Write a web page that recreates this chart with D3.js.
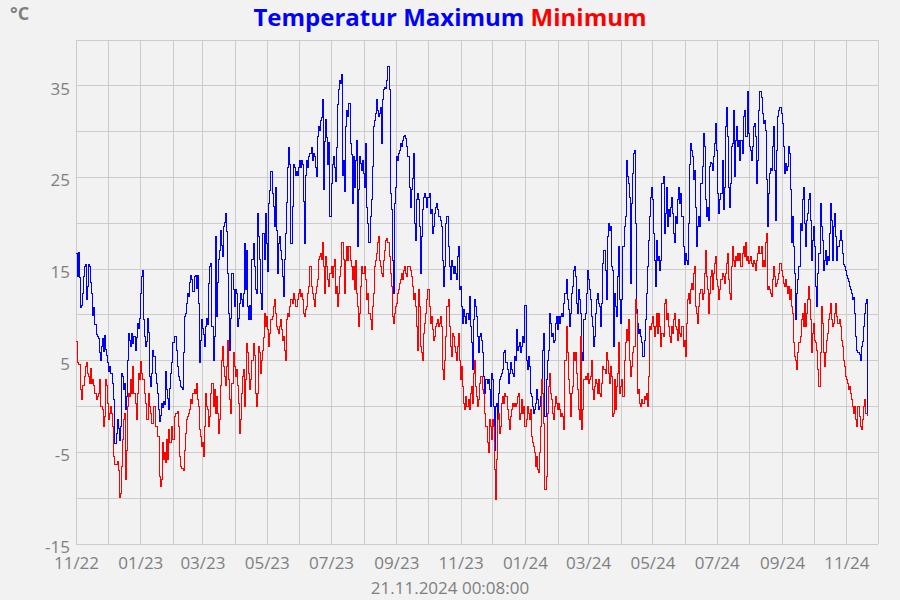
<!DOCTYPE html>
<html><head><meta charset="utf-8">
<script src="https://cdn.jsdelivr.net/npm/d3@7"></script>
<style>
html,body{margin:0;padding:0;background:#f2f2f2;}
svg{display:block;font-family:"Open Sans",sans-serif;}
</style></head><body>
<svg id="chart" width="900" height="600"></svg>
<script>
const startDate = "2022-11-01";
const tmax = [
16.7,14.1,16.8,14,10.7,11,12.3,14.1,15.2,15.5,
11.6,13,15.5,15.2,13.5,12.3,9.9,10.8,8.9,7.8,
7.6,7.4,5.8,5.0,6.5,7.4,6.0,7.7,6.2,5.5,
4.7,3.8,4.3,3.6,3.6,2.5,0.7,-4.1,-3.0,-1.5,
-2.5,-3.8,-2.2,3.6,3.2,1.8,2.5,-0.4,1.0,5,
7.9,7.2,6.5,7.9,6.8,7.6,6.1,7.5,9.0,8.5,
9.5,12.3,14.1,14.8,9.4,7.6,6.5,7.0,9.6,8.0,
3.2,2.1,3.5,6.1,5.4,3.6,2.5,1.4,-0.4,-1.7,
-1.0,0.3,-0.2,0.5,0.2,3.8,1.8,0.8,-0.4,1.9,
3.6,4.7,6.9,7.6,7.6,6.1,4.3,3.2,2.8,2.1,
2.0,1.8,5.8,9.8,10.1,11.2,12.3,11.9,13.5,14.3,
13.8,12.5,14.1,14.3,12.8,14.3,11.2,4.7,7.2,9.4,
8.5,7.8,6.5,8.7,9.6,8.9,13.4,
15.2,15.6,8.7,5.0,7.6,18.5,9.8,13.5,16,17,
19.2,17.5,16.3,19.6,20,21,19,14.5,10.1,6.1,
9.5,14.5,12.7,10.9,12.7,12.3,8.7,9.5,11.2,12.3,
11.6,10.9,12.3,17.7,12.7,17,10.9,9.4,11,9.4,
16,17.7,15.2,12.7,12.3,21,18.5,16,12.3,10.5,
18.8,18.8,16,21,17.7,14.7,22.1,23.5,25.6,23.2,
21.8,19.6,23.9,19.2,14.5,17.7,18.5,17,16,14.1,
11.9,16,18.8,22.2,26,28.2,26.4,17.7,21.8,26.4,
26,25.2,25.6,25.2,26,26.8,26,26.8,26.4,22.3,
17.7,25.2,26.8,26,27.2,27.6,28.2,26.8,27.6,27.2,
26,25,29.4,30.5,30.1,31.2,31.5,33.4,23.6,28.9,
31.3,29.3,26.4,28.8,20.7,24.3,26.4,27.2,26,24.5,
28.2,32.9,34.5,35.5,35.2,36.2,25.2,26.8,
23.4,30.5,32.3,31.6,33,28.6,27.4,22.1,27.2,23.9,
26.8,29,17.4,23.6,27.2,26.5,25.7,26.8,25.4,23.9,
28.6,21.7,19.9,17.8,20.7,22.5,26.1,30.5,31.2,31.9,
33.4,32.3,31.6,31.9,32.6,28.6,33.4,34.5,34.8,34.6,
35.5,37,34.5,23.2,21.4,15.9,12.3,22.1,23.9,27.2,
26.8,27.6,27.9,28.6,28.3,29,29.4,29.5,29.2,28.3,
27.2,23.9,21.7,23.6,24.8,27.6,19.9,18.1,22.5,23.2,
22.5,19.6,14.5,18.5,21.4,22.8,23.2,22.8,21.7,22.8,
23.2,21,21.4,18.8,19.6,21,21.7,22.1,21.4,20.7,
20.7,20.3,19.6,15.9,13,15.2,19.9,20.7,17.4,15.2,
13.8,15.9,15.2,14.5,15.2,14.5,13.8,16.3,17.4,12.7,
13,10.9,9,10.5,9.8,9,10.1,9.4,11.9,8.7,
6.9,4,9.4,11.6,10.9,9.8,7.6,
5.8,7.6,7.9,7.2,5.8,3.2,1.4,2.9,2.5,2.9,
1.8,0,3.6,2.9,0,-4.8,0,0.3,-1.5,1.4,
2.9,3.2,3.6,4,5.8,6.1,4.7,4,2.5,3.6,
4.7,4,3.6,3.2,5.4,5,8.3,6.1,6.5,6.9,
5.8,6.5,7.6,6.9,11,5,4,5.4,4.3,1.4,
1,0,-0.8,-0.4,0.3,1.8,0.7,-0.4,0,1,
2.1,6.1,7.9,-1.1,2.9,5,6.1,10.1,9,7.6,
7.9,6.9,7.2,9,9.8,8.3,9.8,9,9.8,10.1,
9.8,11.2,12.3,13.8,11.6,10.5,8.7,10.1,12.3,13,
14.8,15.2,14.1,11.2,10.1,12.7,11.6,10.1,5.8,5,
9.4,10.1,12.3,14.8,13.8,12.7,11.6,9.8,8.7,6.5,
7.6,10.1,11.6,12.3,11.2,10.9,8.7,11.2,15.6,17,
14.8,11.6,18.5,19.9,19.2,19.6,15.2,
14.8,6.5,12.3,10.9,9.8,14.1,17.4,11.6,9,11.6,
17.4,19.6,20.7,26.8,25,24.3,22.8,13.4,22.1,25.4,
27.6,27.9,19.9,10.5,9,7.9,8.3,7.6,6.9,5.4,
7.2,9.4,12.3,15.2,18.1,20.7,22.8,23.9,22.5,18.8,
15.9,13,18.1,15.9,16.3,14.8,15.9,24.3,25,18.8,
21,23.9,19.6,21.4,20.7,21.7,22.8,21,18.8,17.8,
20.7,19.9,22.5,23.9,22.1,23.2,20.7,17.4,15.5,16.7,
15.9,15.5,19.9,26.4,28.6,27.9,27.2,24.7,25.7,21.7,
17.4,19.6,20.7,19.6,24.3,26.1,29.7,28.3,22.5,20.7,
21.7,20.3,26.1,26.6,26.5,25.7,27.2,28.6,30.8,27.9,
23.2,21,22.5,23.2,26.8,21.4,23.9,30.5,32.6,29.4,
23.9,21.7,24.3,28.3,28.6,32.3,25,29,30.5,28.3,
29,26.8,29,27.6,31.6,32.3,29.4,
29.4,34.3,29.7,28.3,27.9,26.8,28.3,30.5,30.8,29.4,
24.3,26.8,32.3,34.3,33.7,31.9,30.8,31.2,30.1,24.7,
19.6,23.2,25.4,25.9,25.7,28.3,30.5,25.7,20.3,27.9,
31.6,32.3,32.6,31.9,30.8,28.3,25.4,26.5,25.7,26.1,
28.3,27.6,23.6,17.8,20.7,17.4,14.5,9.4,12.3,13.8,
15.2,19.9,19.2,22.5,23.9,19.9,17.4,20.3,21,22.5,
23.2,20.3,15.9,18.1,19.6,17.4,13,10.9,14.5,16.7,
22.1,19.6,18.1,14.8,15.9,17,15.5,16.3,15.9,18.8,
22.1,20.3,15.9,19.6,21,18.5,15.9,17.4,18.1,19.2,
18.1,16.7,15.5,15.2,14.8,14.3,13.9,13.6,13,12.7,
12.3,11.6,11.8,10.1,7.6,6.1,5.8,5.6,5,6.5,
7,8.7,10.1,11.2,11.6,-0.8
];
const tmin = [
7.0,4.7,4.5,4.5,1.8,0.7,2.2,2.2,3.2,4.3,
4.7,3.6,3.2,2.5,4.1,2.5,2.9,2.2,1.4,0.7,
1.0,1.4,2.9,0,0,-0.4,-2.2,-1.1,2.9,2.2,
0.3,-1.5,-0.8,0,-0.8,-2.2,-5.5,-6.4,-6.4,-6,
-7,-10,-9.5,-6.6,-3.7,-1.5,-0.8,-8,-4.8,0,
1.4,1.0,2.9,1.4,4.3,1.4,0.3,-1.5,1.4,3.6,
2.9,4.9,3.6,2.9,2.9,1.4,0.3,-1.5,-1.5,1.4,
0,-0.8,-1.9,-1.9,0,-2.2,-2.2,-3.3,-3.3,-7.7,
-8.8,-8,-4,-5.8,-5.1,-6.2,-3.7,-5.8,-2.6,-4,
-4,-2.2,-3.7,-1.1,-0.8,-0.8,-0.6,-2.2,-5.5,-6.6,
-6.8,-6.8,-7,-4.8,-3,-1.5,-1.1,-0.8,-0.4,0.7,
0.3,1.4,1.8,1.4,2.5,0.7,0,-2.6,-3.3,-4.4,
-4,-5.5,-2.2,1.4,0,-0.4,-2.2,
-1.1,1.4,2.5,0,1.8,-0.8,1.0,-0.8,-3.0,-1.5,
2.2,5.0,6.5,4.3,3.2,2.2,4.3,7.2,2.9,0.7,
-0.8,2.5,5.8,4.3,3.2,4,2.2,0.3,-3.0,-1.5,
1.4,3.2,4.0,0,2.9,6.8,5.8,3.6,1.8,2.9,
5,6.8,5.5,1.4,0,1.4,6.5,5.8,3.6,5,
6.1,7.5,10.1,8.7,9.8,8.3,6.5,7.9,9.4,9.8,
10.9,11.6,10.1,8.7,8.3,7.9,8.7,9.4,8.3,7.2,
7.6,6.1,5.0,9.4,10.1,9.8,10.9,11.6,11.2,12.3,
11.6,10.9,10.9,11.6,12.3,12.7,11.9,12.3,11.6,10.1,
9.8,10.5,10.9,12.3,13,15.2,13,12.3,11.6,10.9,
12.3,13,13.8,16,16.3,16.7,16,17.8,15.2,12.3,
16.3,15.2,13.8,13,14.5,15.2,14,15.2,16,12.3,
13,10.9,12.3,14.1,15.2,17.8,17.8,16,
12.3,15.9,17.4,15.9,17.4,15.9,15.2,13.8,15.2,12.7,
15.9,12.3,10.9,8.7,10.1,13,15.2,14.5,14.5,15.2,
13.8,11.6,12.3,10.1,9.4,8.3,10.9,12.3,15.2,15.9,
16.7,17.8,18.5,15.9,15.2,14.5,14.1,15.9,17,18.1,
18.3,17.8,16.3,14.5,13,9.8,9,10.1,10.9,11.2,
12.3,12.7,13.4,13.8,14.5,13.8,14.8,15.2,14.5,14.1,
15.2,15.2,14.8,14.1,13,11.6,12.3,10.9,8.7,6.1,
12.7,10.9,6.5,5.8,5,7.9,9,10.1,11.6,12.7,
10.9,9,9.8,8.3,7.2,7.6,8.7,9,9.4,8.7,
9,9.8,8.7,4,2.9,5,7.6,10.9,11.6,8.7,
6.5,5.4,7.9,7.6,6.5,5.8,5,6.5,7.9,5,
2.9,4.3,2.1,0.3,-0.4,1,0,0.7,-0.4,1.4,
2.1,0.3,3.6,5,2.1,1,0,
0.7,2.5,3.2,3.2,1.8,1.4,-0.8,-2.2,-4,-5.1,
-1.5,-2.2,-3.7,-1.5,-2.2,-6.9,-10.2,-5.8,-1.5,-0.8,
-3,-2.2,0.3,1,0.3,1.4,1,-0.4,-1.5,-2.6,
-1.1,-0.4,0.3,0,0.3,0,0.3,1,1.4,-1.5,
-0.8,0.7,-0.8,0,-2.2,-1.5,0,-0.8,-1.5,-0.4,
-3.3,-4,-4.4,-5.1,-6.6,-5.5,-6.9,-7.3,-5.1,-2.2,
2.9,1.4,-1.9,-9.1,-7.7,-0.8,2.1,3.6,1.4,0.7,
-0.8,-1.5,0,1,0.3,-0.4,0.3,-0.4,-1.1,-0.8,
-1.1,-2.6,5,8.7,5.8,2.9,1.4,-1.1,1.4,2.1,
5.8,5,5.8,3.6,1.8,-0.4,-1.5,7.6,-2.6,-0.4,
2.9,3.2,2.9,3.6,2.5,2.9,3.2,5,1.8,0.7,
2.1,2.9,2.5,1.4,2.9,1.4,1,2.5,4.3,4,
3.6,5.8,5,3.6,2.5,4.3,3.2,
-1.1,-0.8,2.9,-0.4,2.1,3.6,6.9,1.4,2.1,2.9,
1,5,6.9,8.3,7.2,9.4,5,3.2,4.3,5.8,
6.5,6.5,11.6,10.1,1.4,1.8,0.3,0,0.7,0.3,
1,0.7,1.4,0,3.2,8.7,8.3,9,9.8,8.7,
7.6,8.7,10.1,7.9,10.1,8.7,6.5,7.9,7.6,11.2,
11.6,9.4,10.1,8.7,7.6,6.9,8.7,7.9,9.4,10.1,
8.7,8.3,7.2,9.4,7.9,7.6,8.7,6.5,7.2,5.4,
9,11.6,12.3,11.2,12.7,13.4,12.7,14.5,15.2,10.9,
10.1,9,10.9,12.3,12.7,11.6,12.3,14.5,17,14.1,
12.7,10.1,12.3,14.1,14.8,12.7,14.5,15.6,16.3,13.8,
13,11.6,12.7,13.8,14.5,14.1,13.4,14.5,15.6,16.7,
13.8,12.3,11.6,15.2,17.4,15.9,15.2,16.3,15.9,16.7,
15.9,16.7,15.2,16.7,17.4,16.3,17.9,
15.9,16.3,15.6,15.9,16.3,15.6,15.2,15.9,15.6,14.8,
15.9,16.7,17.4,16.7,17.4,15.2,15.9,15.2,17.8,18.8,
12.7,13,12.7,12.3,11.9,13.8,15.2,14.1,13,13.4,
13.8,14.5,15.6,14.8,14.1,13.4,13,13.8,13,12.3,
13,11.6,12.7,10.9,10.1,6.9,5.4,5,4,5.8,
6.9,7.6,9.4,10.1,8.7,11.2,8.7,10.1,11.6,13,
11.6,9.4,5.8,7.9,9,7.2,6.9,6.1,4,2.1,
5.8,10.9,9,5.8,4.3,5.8,7.2,7.9,9.4,10.1,
11.2,9.4,8.7,9,10.1,11.2,9.8,9,9.4,8.7,
7.2,6.5,5,4.3,3.2,2.9,2.5,1.8,2.1,1.4,
0.7,0,-0.8,0,-1.5,-2.2,0,-1.1,-2.2,-2.6,
-1.5,0,0.7,-0.8,-0.8,-1.1
];
const yTickLabels = [-15, -5, 5, 15, 25, 35];
const yGridValues = [-15, -10, -5, 0, 5, 10, 15, 20, 25, 30, 35, 40];
const xTickLabels = ["11/22","01/23","03/23","05/23","07/23","09/23","11/23","01/24","03/24","05/24","07/24","09/24","11/24"];
const titleMax = "Temperatur Maximum";
const titleMin = "Minimum";
const unitLabel = "°C";
const stampLabel = "21.11.2024 00:08:00";

const svg = d3.select("#chart");
const m = {left: 76, right: 878, top: 39.5, bottom: 543.5};
const grey = "#7f7f7f";
const t0 = d3.timeParse("%Y-%m-%d")(startDate);
const tEnd = d3.timeMonth.offset(t0, 25);
const x = d3.scaleTime().domain([t0, tEnd]).range([m.left, m.right]);
const y = d3.scaleLinear().domain([-15, 40]).range([m.bottom, m.top]);

svg.append("rect").attr("width", 900).attr("height", 600).attr("fill", "#f2f2f2");

// vertical grid (monthly)
const months = d3.timeMonth.range(t0, d3.timeDay.offset(tEnd, 1));
svg.append("g").attr("transform", `translate(0,${m.bottom})`)
  .call(d3.axisBottom(x).tickValues(months).tickSize(-(m.bottom - m.top)).tickFormat(""))
  .call(g => g.select(".domain").remove())
  .call(g => g.selectAll("line").attr("stroke", "#cccccc").attr("shape-rendering", "crispEdges"));

// horizontal grid
svg.append("g").attr("transform", `translate(${m.left},0)`)
  .call(d3.axisLeft(y).tickValues(yGridValues).tickSize(-(m.right - m.left)).tickFormat(""))
  .call(g => g.select(".domain").remove())
  .call(g => g.selectAll("line").attr("stroke", "#cccccc").attr("shape-rendering", "crispEdges"));

// x labels
const labelMonths = d3.timeMonth.every(2).range(t0, d3.timeDay.offset(tEnd, -1));
svg.append("g").attr("transform", `translate(0,${m.bottom})`)
  .call(d3.axisBottom(x).tickValues(labelMonths).tickSize(0).tickFormat((d, i) => xTickLabels[i]))
  .call(g => g.select(".domain").remove())
  .call(g => g.selectAll("text").attr("dy", null).attr("y", 25)
     .attr("fill", grey).attr("font-size", 17).attr("font-family", "Open Sans"));

// y labels
svg.append("g").attr("transform", `translate(${m.left},0)`)
  .call(d3.axisLeft(y).tickValues(yTickLabels).tickSize(0).tickPadding(6).tickFormat(d => String(d)))
  .call(g => g.select(".domain").remove())
  .call(g => g.selectAll("text").attr("dy", null).attr("y", 9)
     .attr("fill", grey).attr("font-size", 17).attr("font-family", "Open Sans"));

// lines
const line = d3.line()
  .x((d, i) => x(d3.timeDay.offset(t0, i)))
  .y(d => y(d))
  .curve(d3.curveStepAfter);

svg.append("path").datum(tmax).attr("d", line)
  .attr("fill", "none").attr("stroke", "#0000ff").attr("stroke-width", 1)
  .attr("shape-rendering", "crispEdges");
svg.append("path").datum(tmin).attr("d", line)
  .attr("fill", "none").attr("stroke", "#ff0000").attr("stroke-width", 1)
  .attr("shape-rendering", "crispEdges");

// title
const title = svg.append("text").attr("x", 450).attr("y", 26)
  .attr("text-anchor", "middle").attr("font-weight", "bold")
  .attr("font-size", 24).attr("font-family", "Open Sans");
title.append("tspan").attr("fill", "#0000ff").text(titleMax + " ");
title.append("tspan").attr("fill", "#ff0000").text(titleMin);

svg.append("text").attr("x", 10).attr("y", 20).attr("font-weight", "bold")
  .attr("font-size", 18).attr("fill", grey).attr("font-family", "Open Sans").text(unitLabel);

svg.append("text").attr("x", 450).attr("y", 594).attr("text-anchor", "middle")
  .attr("font-size", 17).attr("fill", grey).attr("font-family", "Open Sans").text(stampLabel);
</script>
</body></html>
